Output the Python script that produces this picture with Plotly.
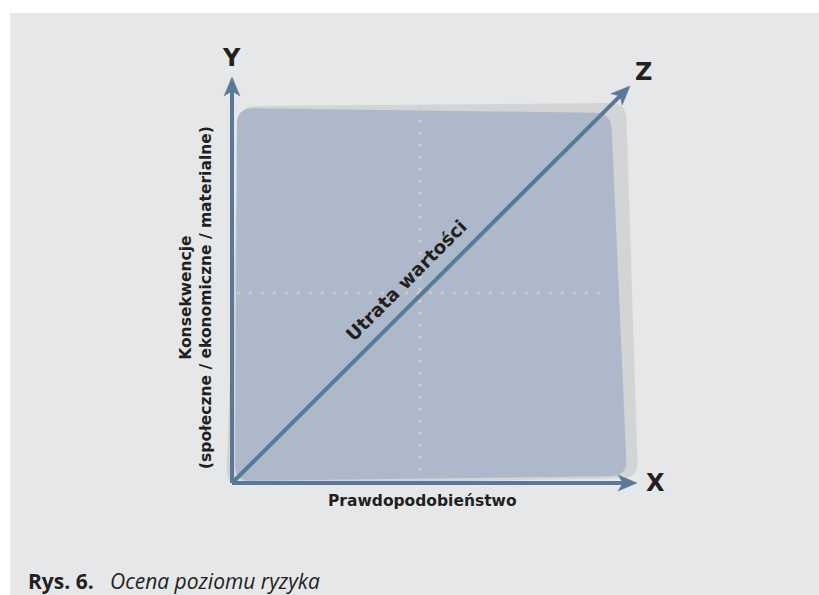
import plotly.graph_objects as go

# ---- diagram data (units: axis length ~ 1) ----
axis_names = ["X", "Y", "Z"]
axis_tip_x = [1.0125, 0.0, 0.995]
axis_tip_y = [0.0, 1.015, 0.9925]
letter_x = [1.0575, -0.0025, 1.0275]
letter_y = [0.0, 1.0625, 1.0275]

box_x = [0.0125, 0.9475, 0.9875, 0.0075]
box_y = [0.9375, 0.925, 0.0175, 0.005]
shadow_x = [0.02, 0.985, 1.015, -0.015]
shadow_y = [0.9425, 0.95, 0.0125, -0.005]

grid_x = [0.47]
grid_y = [0.475]

x_title = "Prawdopodobieństwo"
x_title_pos = [0.475, -0.045]
y_title = ["Konsekwencje", "(społeczne / ekonomiczne / materialne)"]
y_title_pos = [-0.09, 0.4625]
z_title = "Utrata wartości"
z_title_pos = [0.435, 0.5075]
caption_bold = "Rys. 6."
caption_italic = "Ocena poziomu ryzyka"

# ---- styles ----
W, H = 819, 595
PX = 400.0  # pixels per unit
ox, oy = 232, 483
BG = "#e6e7e9"
BLUE = "#adb9cb"
SHADOW = "#d3d4d6"
ARROW = "#5a7897"
TXT = "#231f20"
DOT = "#cccbc6"
BOLD = "DejaVu Sans"
HEAD_L, HEAD_W, HEAD_NOTCH = 19 / PX, 8 / PX, 5 / PX


def rounded_path(xs, ys, r):
    n = len(xs)
    pts = list(zip(xs, ys))
    segs = []
    for i in range(n):
        p = pts[i]
        a = pts[i - 1]
        b = pts[(i + 1) % n]

        def toward(q, d):
            dx, dy = q[0] - p[0], q[1] - p[1]
            L = (dx * dx + dy * dy) ** 0.5
            return (p[0] + dx / L * d, p[1] + dy / L * d)
        segs.append((toward(a, r), p, toward(b, r)))
    d = "M%f,%f " % segs[0][0]
    for i, (s, p, e) in enumerate(segs):
        if i > 0:
            d += "L%f,%f " % s
        d += "Q%f,%f %f,%f " % (p[0], p[1], e[0], e[1])
    return d + "Z"


fig = go.Figure()

# dotted guide lines
fig.add_trace(go.Scatter(x=[grid_x[0], grid_x[0]], y=[box_y[0], box_y[3]], mode="lines",
                         line=dict(color=DOT, width=3, dash="3px,9px"), hoverinfo="skip", showlegend=False))
fig.add_trace(go.Scatter(x=[box_x[0], box_x[1] - 0.005], y=[grid_y[0], grid_y[0]], mode="lines",
                         line=dict(color=DOT, width=3, dash="3px,9px"), hoverinfo="skip", showlegend=False))

# axes with arrow heads
for tx, ty in zip(axis_tip_x, axis_tip_y):
    L = (tx * tx + ty * ty) ** 0.5
    ux, uy = tx / L, ty / L
    nx, ny = -uy, ux
    bx, by = tx - (HEAD_L - HEAD_NOTCH) * ux, ty - (HEAD_L - HEAD_NOTCH) * uy
    fig.add_trace(go.Scatter(x=[0, bx + 0.002 * ux], y=[0, by + 0.002 * uy], mode="lines",
                             line=dict(color=ARROW, width=4), hoverinfo="skip", showlegend=False))
    hx = [tx, tx - HEAD_L * ux + HEAD_W * nx, bx, tx - HEAD_L * ux - HEAD_W * nx, tx]
    hy = [ty, ty - HEAD_L * uy + HEAD_W * ny, by, ty - HEAD_L * uy - HEAD_W * ny, ty]
    fig.add_trace(go.Scatter(x=hx, y=hy, mode="lines", fill="toself", fillcolor=ARROW,
                             line=dict(color=ARROW, width=0.5), hoverinfo="skip", showlegend=False))

shapes = [
    dict(type="rect", xref="paper", yref="paper", x0=10 / W, x1=1, y0=0, y1=1 - 13 / H,
         fillcolor=BG, line=dict(width=0), layer="below"),
    dict(type="path", xref="x", yref="y", path=rounded_path(shadow_x, shadow_y, 16 / PX),
         fillcolor=SHADOW, line=dict(width=0), layer="below"),
    dict(type="path", xref="x", yref="y", path=rounded_path(box_x, box_y, 16 / PX),
         fillcolor=BLUE, line=dict(width=0), layer="below"),
]

annotations = []
for name, lx, ly in zip(axis_names, letter_x, letter_y):
    annotations.append(dict(x=lx, y=ly, xref="x", yref="y", text="<b>%s</b>" % name, showarrow=False,
                            font=dict(family=BOLD, size=24, color=TXT), xanchor="center", yanchor="middle"))

annotations.append(dict(x=x_title_pos[0], y=x_title_pos[1], xref="x", yref="y", text="<b>%s</b>" % x_title,
                        showarrow=False, font=dict(family=BOLD, size=15.5, color=TXT)))
annotations.append(dict(x=y_title_pos[0], y=y_title_pos[1], xref="x", yref="y",
                        text="<b>%s</b><br><b>%s</b>" % (y_title[0], y_title[1]), textangle=-90,
                        showarrow=False, font=dict(family=BOLD, size=15.5, color=TXT)))
annotations.append(dict(x=z_title_pos[0], y=z_title_pos[1], xref="x", yref="y", text="<b>%s</b>" % z_title,
                        textangle=-45, showarrow=False, font=dict(family=BOLD, size=18.5, color=TXT)))
annotations.append(dict(x=26 / W, y=1 - 581 / H, xref="paper", yref="paper",
                        text="<b>%s</b>\u00a0\u00a0 <i>%s</i>" % (caption_bold, caption_italic),
                        xanchor="left", yanchor="middle", showarrow=False,
                        font=dict(family="Open Sans", size=21, color=TXT)))

fig.update_layout(
    width=W, height=H, margin=dict(l=0, r=0, t=0, b=0),
    paper_bgcolor="white", plot_bgcolor="rgba(0,0,0,0)",
    xaxis=dict(range=[-ox / PX, (W - ox) / PX], visible=False, fixedrange=True),
    yaxis=dict(range=[(oy - H) / PX, oy / PX], visible=False, fixedrange=True),
    shapes=shapes, annotations=annotations, showlegend=False,
)

fig.write_html("out.html", post_script="document.body.style.margin='0';", config={"displayModeBar": False})
